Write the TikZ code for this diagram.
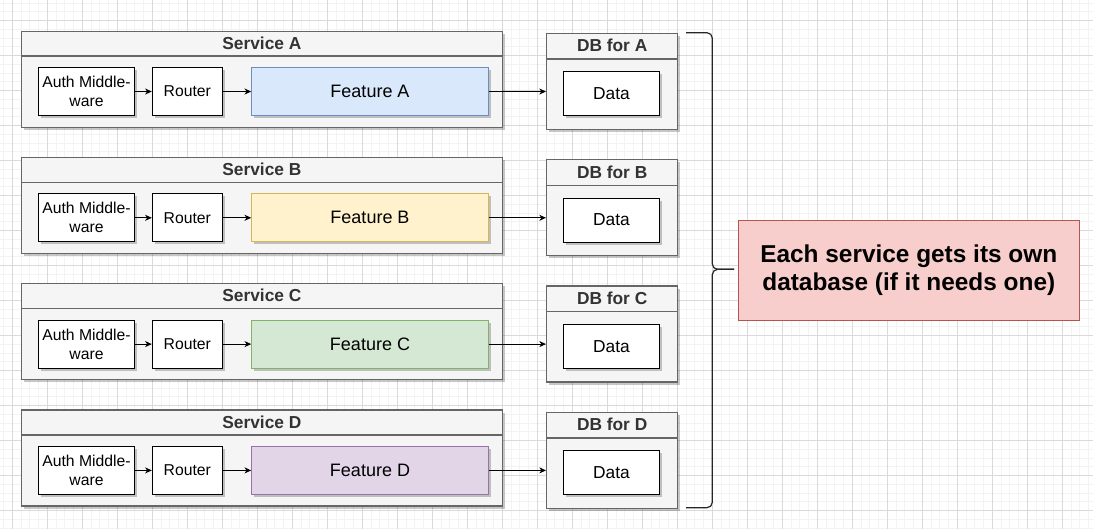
\documentclass[tikz,border=0pt]{standalone}
\usepackage{fontspec}
\setmainfont{Liberation Sans}
\usetikzlibrary{arrows.meta,shadows}
\definecolor{gridminor}{HTML}{F3F3F3}
\definecolor{gridmajor}{HTML}{DADADA}
\definecolor{contfill}{HTML}{F5F5F5}
\definecolor{contstroke}{HTML}{666666}
\definecolor{titlecol}{HTML}{333333}
\definecolor{fillA}{HTML}{DAE8FC}\definecolor{strokeA}{HTML}{6C8EBF}
\definecolor{fillB}{HTML}{FFF2CC}\definecolor{strokeB}{HTML}{D6B656}
\definecolor{fillC}{HTML}{D5E8D4}\definecolor{strokeC}{HTML}{82B366}
\definecolor{fillD}{HTML}{E1D5E7}\definecolor{strokeD}{HTML}{9673A6}
\definecolor{notefill}{HTML}{F8CECC}\definecolor{notestroke}{HTML}{B85450}
\tikzset{
  shad/.style={drop shadow={shadow xshift=2pt,shadow yshift=-2pt,fill=black,opacity=0.22}},
  cont/.style={shad,draw=contstroke,fill=contfill,line width=1pt,inner sep=0pt,rectangle},
  contline/.style={draw=contstroke,line width=1pt},
  ctitle/.style={text=titlecol,font=\fontsize{13}{15}\selectfont\bfseries,inner sep=0pt},
  plainbox/.style={shad,draw=black,fill=white,line width=0.75pt,inner sep=0pt,align=center,
     minimum height=36pt,font=\fontsize{11.8}{14.2}\selectfont},
  featbox/.style={shad,line width=0.75pt,inner sep=0pt,minimum height=36pt,minimum width=177.45pt,
     font=\fontsize{13.5}{16}\selectfont},
  databox/.style={shad,draw=black,fill=white,line width=0.75pt,inner sep=0pt,minimum width=72.15pt,
     minimum height=33pt,font=\fontsize{13}{15}\selectfont},
  arr/.style={draw=black,line width=0.75pt,-{Stealth[length=5pt,width=4.5pt,inset=1.5pt]}},
  brace/.style={draw=black!85,line width=0.9pt,rounded corners=4pt},
  notebox/.style={draw=notestroke,fill=notefill,line width=0.75pt,inner sep=0pt,minimum width=255.75pt,
     minimum height=75.2pt,align=center,font=\fontsize{18.3}{21.3}\selectfont\bfseries},
}
\begin{document}
\begin{tikzpicture}[x=0.75pt,y=-0.75pt]
\useasboundingbox (0,0) rectangle (1093,529);
\fill[white] (0,0) rectangle (1093,529);
% grid
\foreach \i in {0,...,124} {
  \pgfmathsetmacro{\gx}{3.55+8.75*\i}
  \draw[gridminor,line width=0.75pt] (\gx,0) -- (\gx,529);
}
\foreach \i in {0,...,60} {
  \pgfmathsetmacro{\gy}{3.2+8.75*\i}
  \draw[gridminor,line width=0.75pt] (0,\gy) -- (1093,\gy);
}
\foreach \i in {0,...,31} {
  \pgfmathsetmacro{\gx}{12.3+35*\i}
  \draw[gridmajor,line width=0.75pt] (\gx,0) -- (\gx,529);
}
\foreach \i in {0,...,15} {
  \pgfmathsetmacro{\gy}{20.7+35*\i}
  \draw[gridmajor,line width=0.75pt] (0,\gy) -- (1093,\gy);
}
% services
\foreach \n/\T in {A/30.5,B/156.8,C/283.1,D/409.4} {
  \node[cont,minimum width=360.75pt,minimum height=72pt,anchor=north west] (svc\n) at (20.7,\T) {};
  \draw[contline] ([yshift=-19.125pt]svc\n.north west) -- ([yshift=-19.125pt]svc\n.north east);
  \node[ctitle] (svct\n) at ([yshift=-9.5pt]svc\n.north) {Service \n};
  \node[plainbox,minimum width=72.3pt] (auth\n) at (86.5,\T+61) {Auth Middle-\\ware};
  \node[plainbox,minimum width=52.5pt] (router\n) at (187.3,\T+61) {Router};
  \node[featbox,fill=fill\n,draw=stroke\n] (feat\n) at (370,\T+61) {Feature \n};
  \node[cont,minimum width=98.25pt,minimum height=72pt,anchor=north west] (db\n) at (546,\T+2.3) {};
  \draw[contline] ([yshift=-19.65pt]db\n.north west) -- ([yshift=-19.65pt]db\n.north east);
  \node[ctitle] (dbt\n) at ([yshift=-9.75pt]db\n.north) {DB for \n};
  \node[databox] (data\n) at (611.4,\T+63.2) {Data};
  \draw[arr] (auth\n) -- (router\n);
  \draw[arr] (router\n) -- (feat\n);
  \draw[arr] (feat\n.east) -- (feat\n.east -| db\n.west);
}
% note and brace
\node[notebox] (note) at (908.8,270.2) {Each service gets its own\\database (if it needs one)};
\coordinate (bracetop) at (686,32.7);
\coordinate (bracebot) at (686,507.7);
\coordinate (bracetip) at (734,269.3);
\draw[brace] (bracetop) -- (712.3,32.7) -- (712.3,269.3) -- (bracetip);
\draw[brace] (bracebot) -- (712.3,507.7) -- (712.3,269.3) -- (bracetip);
\end{tikzpicture}
\end{document}
